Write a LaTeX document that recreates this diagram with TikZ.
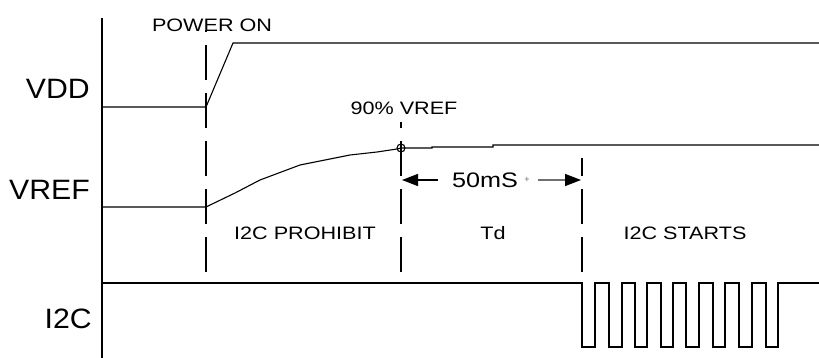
\documentclass[tikz,border=0pt]{standalone}
\usepackage{fontspec}
\setmainfont{Liberation Sans}
\newfontfamily\bigf[FakeStretch=1.08]{Liberation Sans}
\newfontfamily\smallf[FakeStretch=1.2]{Liberation Sans}
\usetikzlibrary{arrows.meta}
\definecolor{shaftgray}{HTML}{707070}
\begin{document}
\begin{tikzpicture}[x=1pt,y=-1pt,
  sig/.style={draw=black, line width=1.1pt, line join=miter},
  guide/.style={draw=black, line width=1.1pt, dash pattern=on 35pt off 13pt},
  biglbl/.style={anchor=base east, inner sep=0pt, font=\bigf\fontsize{28}{30}\selectfont},
  lbl/.style={anchor=base, inner sep=0pt, font=\smallf\fontsize{18}{20}\selectfont},
  midlbl/.style={anchor=base, inner sep=0pt, font=\smallf\fontsize{21}{23}\selectfont},
  tip/.style={-{Triangle[length=16pt,width=12pt,color=black]}}]
\fill[white] (0,0) rectangle (819,358);
\useasboundingbox (0,0) rectangle (819,358);

% axis
\coordinate (axT) at (102,18);
\coordinate (axB) at (102,358);
\draw[sig] (axT) -- (axB);

% labels
\node[biglbl] (lVDD) at (90,99) {VDD};
\node[biglbl] (lVREF) at (90,200) {VREF};
\node[biglbl] (lI2C) at (92,328) {I2C};
\node[lbl] (pwr) at (212,32) {POWER ON};
\node[lbl] (p90) at (404,115) {90\% VREF};
\node[midlbl] (t50) at (485,188) {50mS};
\node[anchor=center, inner sep=0pt, text=shaftgray, font=\fontsize{9}{9}\selectfont] (plus) at (527,180) {+};
\node[lbl] (prohibit) at (305,240) {I2C PROHIBIT};
\node[lbl] (td) at (493,240) {Td};
\node[lbl] (starts) at (685,240) {I2C STARTS};

% VDD
\coordinate (v0) at (102,107);
\coordinate (v1) at (206,107);
\coordinate (v2) at (233,43);
\coordinate (v3) at (819,43);
\draw[sig] (v0) -- (v1) -- (v2) -- (v3);

% VREF
\coordinate (r0) at (102,207);
\coordinate (r1) at (206,207);
\coordinate (r90) at (401,148);
\coordinate (r3) at (819,145);
\draw[sig] (r0) -- (r1) -- (235,193) -- (260,180) -- (300,165) -- (350,155)
  -- (377,152) -- (397,149) -- (r90) -- (432,148) -- (432,147) -- (493,147)
  -- (493,145) -- (r3);
\draw[sig] (r90) circle (4pt);

% guide lines
\coordinate (g1b) at (206,272); \coordinate (g1t) at (206,30);
\coordinate (g2b) at (401,272); \coordinate (g2t) at (401,122);
\coordinate (g3b) at (582,272); \coordinate (g3t) at (582,158);
\draw[guide] (g1b) -- (g1t);
\draw[guide] (g2b) -- (g2t);
\draw[guide] (g3b) -- (g3t);

% 50 ms arrows
\coordinate (aLs) at (438,180); \coordinate (aLe) at (402,180);
\coordinate (aRs) at (538,180); \coordinate (aRe) at (581,180);
\draw[line width=1.4pt, tip] (aLs) -- (aLe);
\draw[line width=1.4pt, draw=shaftgray, tip] (aRs) -- (aRe);

% I2C signal
\coordinate (i0) at (102,283);
\coordinate (i1) at (582,283);
\coordinate (i9) at (819,283);
\draw[sig] (i0) -- (i1)
  -- (582,347) -- (595,347) -- (595,283)
  -- (609,283) -- (609,347) -- (622,347) -- (622,283)
  -- (635,283) -- (635,347) -- (647,347) -- (647,283)
  -- (661,283) -- (661,347) -- (673,347) -- (673,283)
  -- (686,283) -- (686,347) -- (699,347) -- (699,283)
  -- (713,283) -- (713,347) -- (725,347) -- (725,283)
  -- (739,283) -- (739,347) -- (752,347) -- (752,283)
  -- (766,283) -- (766,347) -- (778,347) -- (778,283)
  -- (i9);
\end{tikzpicture}
\end{document}
